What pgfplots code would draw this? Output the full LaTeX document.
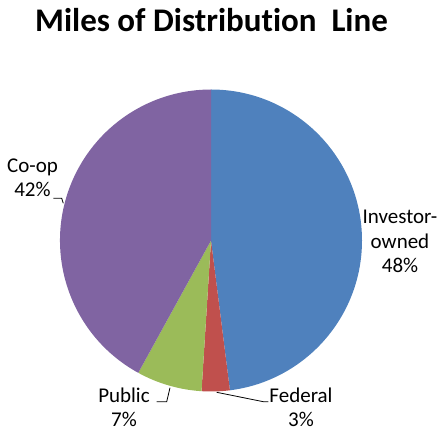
\documentclass[border=0pt]{standalone}
\usepackage{pgfplots}
\pgfplotsset{compat=1.18}
\usepackage{fontspec}
\setmainfont{Carlito}[Ligatures=NoCommon]
\definecolor{cInv}{HTML}{4F81BD}
\definecolor{cFed}{HTML}{C0504D}
\definecolor{cPub}{HTML}{9BBB59}
\definecolor{cCoop}{HTML}{8064A2}
% shares in percent
\def\vInv{48}
\def\vFed{3}
\def\vPub{7}
\def\vCoop{42}
\pgfmathsetmacro{\aA}{90}
\pgfmathsetmacro{\aB}{\aA-3.6*\vInv}
\pgfmathsetmacro{\aC}{\aB-3.6*\vFed}
\pgfmathsetmacro{\aD}{\aC-3.6*\vPub}
\pgfmathsetmacro{\aE}{\aD-3.6*\vCoop}
\begin{document}
\begin{tikzpicture}
\useasboundingbox (0,0) rectangle (442pt,433pt);
\begin{axis}[
  at={(0,0)}, anchor=south west,
  scale only axis, width=442pt, height=433pt,
  xmin=0, xmax=442, ymin=0, ymax=433,
  hide axis, clip=false,
]
\fill[cInv]  (axis cs:211,192.5) -- ++(\aA:151pt) arc[start angle=\aA, end angle=\aB, radius=151pt] -- cycle;
\fill[cFed]  (axis cs:211,192.5) -- ++(\aB:151pt) arc[start angle=\aB, end angle=\aC, radius=151pt] -- cycle;
\fill[cPub]  (axis cs:211,192.5) -- ++(\aC:151pt) arc[start angle=\aC, end angle=\aD, radius=151pt] -- cycle;
\fill[cCoop] (axis cs:211,192.5) -- ++(\aD:151pt) arc[start angle=\aD, end angle=\aE, radius=151pt] -- cycle;
% title
\node[anchor=base, font=\fontsize{33}{40}\selectfont\bfseries] at (axis cs:211.5,401) {Miles of Distribution~~Line};
% labels (base anchor = baseline of last line)
\node[anchor=base, align=center, font=\fontsize{21}{24.5}\selectfont] at (axis cs:400,160) {Investor-\\owned\\48\%};
\node[anchor=base, align=center, font=\fontsize{21}{24.5}\selectfont] at (axis cs:32.5,236) {Co-op\\42\%};
\node[anchor=base, align=center, font=\fontsize{21}{24.5}\selectfont] at (axis cs:124,6) {Public\\7\%};
\node[anchor=base, align=center, font=\fontsize{21}{24.5}\selectfont] at (axis cs:301,6) {Federal\\3\%};
% leader lines
\draw[black, line width=0.8pt] (axis cs:216.7,40.7) -- (axis cs:263.3,31.3) -- (axis cs:268.3,31.3);
\draw[black, line width=0.8pt] (axis cs:156.7,31.3) -- (axis cs:166.7,31.3) -- (axis cs:170,45.3);
\draw[black, line width=0.8pt] (axis cs:53.3,234.7) -- (axis cs:61.7,234.7) -- (axis cs:63.3,229.7);
\end{axis}
\end{tikzpicture}
\end{document}
